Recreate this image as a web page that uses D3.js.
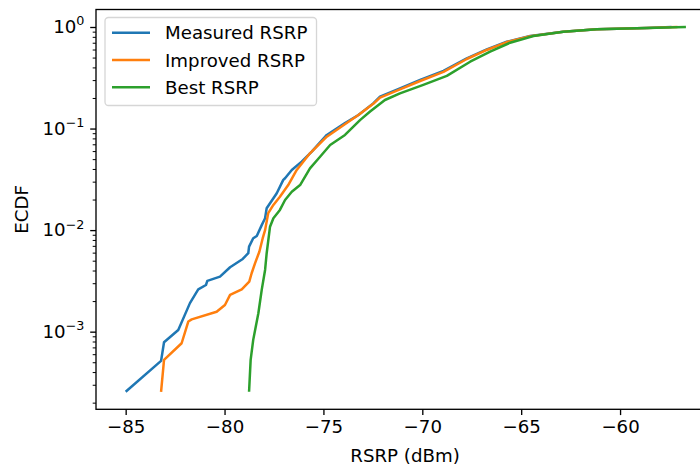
<!DOCTYPE html>
<html>
<head>
<meta charset="utf-8">
<script src="https://cdn.jsdelivr.net/npm/d3@7"></script>
<style>
  html, body { margin: 0; padding: 0; background: #fff; }
  svg { display: block; font-family: "DejaVu Sans", sans-serif; }
</style>
</head>
<body>
<svg id="chart" width="700" height="468"></svg>
<script>
// ---- Data ----
const seriesNames = ["Measured RSRP", "Improved RSRP", "Best RSRP"];
const seriesColors = ["#1f77b4", "#ff7f0e", "#2ca02c"];

const measuredX = [-85.0, -83.21, -83.06, -82.34, -81.75, -81.33, -80.94, -80.87, -80.23, -79.72, -79.08, -78.80, -78.76, -78.55, -78.37, -78.12, -77.95, -77.87, -77.70, -77.36, -77.03, -76.94, -76.60, -76.10, -75.59, -74.83, -73.91, -73.23, -72.48, -72.14, -71.13, -70.11, -68.93, -67.75, -66.74, -65.73, -64.55, -62.87, -61.18, -58.65, -57.4];
const measuredY = [0.000256, 0.000515, 0.000787, 0.00104, 0.00191, 0.00261, 0.00288, 0.00316, 0.00348, 0.00431, 0.00520, 0.00592, 0.00687, 0.00832, 0.00875, 0.0112, 0.0131, 0.0164, 0.0184, 0.0231, 0.0312, 0.0324, 0.0391, 0.0472, 0.0592, 0.0865, 0.113, 0.136, 0.177, 0.206, 0.249, 0.301, 0.369, 0.492, 0.603, 0.716, 0.815, 0.899, 0.949, 0.978, 1.0];

const improvedX = [-83.21, -83.06, -82.17, -81.83, -81.66, -80.40, -79.98, -79.72, -79.13, -78.75, -78.63, -78.46, -78.24, -78.07, -77.95, -77.79, -77.53, -77.20, -76.78, -76.35, -75.68, -74.83, -73.99, -73.23, -72.48, -72.14, -71.13, -70.11, -68.93, -67.75, -66.74, -65.73, -64.55, -62.87, -61.18, -58.65, -57.1];
const improvedY = [0.000256, 0.000527, 0.000769, 0.00126, 0.00132, 0.00157, 0.00183, 0.00230, 0.00261, 0.00311, 0.00376, 0.00471, 0.00613, 0.00832, 0.0100, 0.0147, 0.0177, 0.0213, 0.0278, 0.0391, 0.0571, 0.0832, 0.108, 0.136, 0.175, 0.202, 0.243, 0.294, 0.361, 0.484, 0.594, 0.711, 0.812, 0.898, 0.948, 0.978, 1.0];

const bestX = [-78.76, -78.68, -78.55, -78.29, -78.12, -77.95, -77.87, -77.70, -77.53, -77.20, -76.94, -76.60, -76.18, -75.68, -75.17, -74.66, -73.91, -73.15, -72.64, -71.89, -71.13, -69.95, -68.76, -67.58, -66.57, -65.56, -64.38, -62.87, -61.18, -58.65, -56.67];
const bestY = [0.000256, 0.000527, 0.000830, 0.00152, 0.00258, 0.00405, 0.00592, 0.0108, 0.0131, 0.0158, 0.0198, 0.0239, 0.0278, 0.0406, 0.0528, 0.0689, 0.0865, 0.121, 0.147, 0.191, 0.222, 0.269, 0.330, 0.455, 0.571, 0.700, 0.815, 0.899, 0.949, 0.978, 1.0];

const xTicks = [-85, -80, -75, -70, -65, -60];
const yTicks = [1e-3, 1e-2, 1e-1, 1];
const yTickExp = ["−3", "−2", "−1", "0"];
const xLabel = "RSRP (dBm)";
const yLabel = "ECDF";

// ---- Layout ----
const FS = 18.2;
const padL = 96, padR = 714, padT = 9.5, padB = 409.3;
const svg = d3.select("#chart");

const x = d3.scaleLinear().domain([-86.50, -55.25]).range([padL, padR]);
const y = d3.scaleLog().domain([1.72e-4, 1.487]).range([padB, padT]);

svg.append("defs").append("clipPath").attr("id", "clip")
  .append("rect").attr("x", padL).attr("y", padT)
  .attr("width", padR - padL).attr("height", padB - padT);

// Lines
const series = [
  { xs: measuredX, ys: measuredY },
  { xs: improvedX, ys: improvedY },
  { xs: bestX, ys: bestY }
];
const line = d3.line().x(d => x(d[0])).y(d => y(d[1]));
const plot = svg.append("g").attr("clip-path", "url(#clip)");
series.forEach((s, i) => {
  const pts = s.xs.map((v, j) => [v, s.ys[j]]);
  plot.append("path").datum(pts)
    .attr("d", line)
    .attr("fill", "none")
    .attr("stroke", seriesColors[i])
    .attr("stroke-width", 2.5)
    .attr("stroke-linejoin", "round")
    .attr("stroke-linecap", "butt");
});

// X axis
const xAxis = d3.axisBottom(x).tickValues(xTicks).tickSize(5.8).tickPadding(4.6)
  .tickFormat(d3.format("d"));
const gx = svg.append("g").attr("transform", `translate(0,${padB})`).call(xAxis);
gx.select(".domain").remove();
gx.selectAll(".tick line").attr("stroke", "#000").attr("stroke-width", 1.33);
gx.selectAll(".tick text").attr("font-size", FS).attr("fill", "#000")
  .attr("font-family", "DejaVu Sans");

// Y axis (major)
const yAxis = d3.axisLeft(y).tickValues(yTicks).tickSize(5.8).tickPadding(5.8)
  .tickFormat("");
const gy = svg.append("g").attr("transform", `translate(${padL},0)`).call(yAxis);
gy.select(".domain").remove();
gy.selectAll(".tick line").attr("stroke", "#000").attr("stroke-width", 1.33);
gy.selectAll(".tick text").each(function(d, i) {
  const t = d3.select(this);
  t.attr("font-size", FS).attr("fill", "#000").attr("dy", "0.32em")
    .attr("font-family", "DejaVu Sans");
  t.text(null);
  t.append("tspan").text("10");
  t.append("tspan").attr("font-size", FS * 0.7).attr("dy", "-0.62em")
    .text(yTickExp[i]);
});

// Y minor ticks
const minor = [];
for (let e = -4; e <= 0; e++) {
  for (let m = 2; m <= 9; m++) {
    const v = m * Math.pow(10, e);
    if (v >= y.domain()[0] && v <= y.domain()[1]) minor.push(v);
  }
}
const yMinor = d3.axisLeft(y).tickValues(minor).tickSize(3.3).tickFormat("");
const gym = svg.append("g").attr("transform", `translate(${padL},0)`).call(yMinor);
gym.select(".domain").remove();
gym.selectAll(".tick line").attr("stroke", "#000").attr("stroke-width", 1);

// Spines
const sp = svg.append("g").attr("stroke", "#000").attr("stroke-width", 1.33)
  .attr("fill", "none").attr("stroke-linecap", "square");
sp.append("rect").attr("x", padL).attr("y", padT)
  .attr("width", padR - padL).attr("height", padB - padT);

// Axis labels
svg.append("text").attr("x", (padL + padR) / 2).attr("y", 462)
  .attr("text-anchor", "middle").attr("font-size", FS).attr("fill", "#000")
  .text(xLabel);
svg.append("text")
  .attr("transform", `translate(28,${(padT + padB) / 2}) rotate(-90)`)
  .attr("text-anchor", "middle").attr("font-size", FS).attr("fill", "#000")
  .text(yLabel);

// Legend
const lg = svg.append("g");
lg.append("rect").attr("x", 105).attr("y", 17.5).attr("width", 211.5).attr("height", 88)
  .attr("rx", 3.5).attr("fill", "#fff").attr("fill-opacity", 0.8)
  .attr("stroke", "#ccc").attr("stroke-opacity", 0.8).attr("stroke-width", 1.3);
const rowY = [32.7, 60, 87.3];
seriesNames.forEach((name, i) => {
  lg.append("line").attr("x1", 112).attr("x2", 150)
    .attr("y1", rowY[i]).attr("y2", rowY[i])
    .attr("stroke", seriesColors[i]).attr("stroke-width", 2.5);
  lg.append("text").attr("x", 165).attr("y", rowY[i]).attr("dy", "0.36em")
    .attr("font-size", FS).attr("fill", "#000").text(name);
});
</script>
</body>
</html>
